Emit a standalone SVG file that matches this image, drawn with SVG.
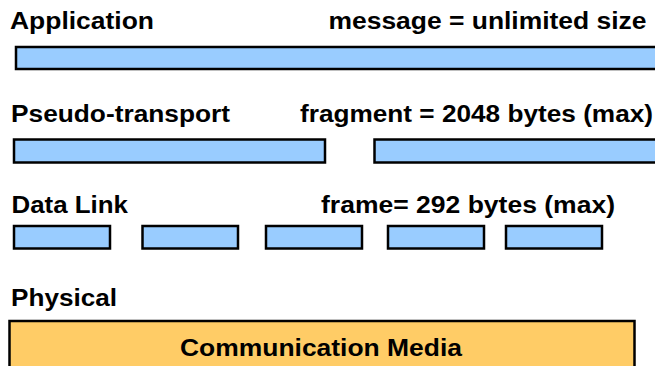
<svg xmlns="http://www.w3.org/2000/svg" width="655" height="366" viewBox="0 0 655 366">
<style>
text{font-family:"Liberation Sans",Arial,sans-serif;font-weight:bold;font-size:23px;fill:#000}
.pkt{fill:#99CCFF;stroke:#000;stroke-width:2.5}
.media{fill:#FFCC66;stroke:#000;stroke-width:2.5}
</style>
<rect width="655" height="366" fill="#fff"/>
<g id="application">
<text x="10" y="29" textLength="144" lengthAdjust="spacingAndGlyphs">Application</text>
<text x="328.5" y="29" textLength="318" lengthAdjust="spacingAndGlyphs">message = unlimited size</text>
<rect class="pkt" x="16" y="47" width="660" height="22"/>
</g>
<g id="pseudo-transport">
<text x="11" y="121.5" textLength="219" lengthAdjust="spacingAndGlyphs">Pseudo-transport</text>
<text x="300" y="121.5" textLength="353" lengthAdjust="spacingAndGlyphs">fragment = 2048 bytes (max)</text>
<rect class="pkt" x="14" y="139.5" width="311" height="23"/>
<rect class="pkt" x="374.5" y="139.5" width="300" height="23"/>
</g>
<g id="data-link">
<text x="11.5" y="213" textLength="116.5" lengthAdjust="spacingAndGlyphs">Data Link</text>
<text x="321" y="213" textLength="294" lengthAdjust="spacingAndGlyphs">frame= 292 bytes (max)</text>
<rect class="pkt" x="14" y="226" width="96" height="22.5"/>
<rect class="pkt" x="142.5" y="226" width="95.5" height="22.5"/>
<rect class="pkt" x="266" y="226" width="96" height="22.5"/>
<rect class="pkt" x="388" y="226" width="96" height="22.5"/>
<rect class="pkt" x="506" y="226" width="96" height="22.5"/>
</g>
<g id="physical">
<text x="11" y="305.5" textLength="106" lengthAdjust="spacingAndGlyphs">Physical</text>
<rect class="media" x="9.5" y="321" width="625" height="60"/>
<text x="180" y="356" textLength="282" lengthAdjust="spacingAndGlyphs">Communication Media</text>
</g>
<g id="connectors"/>
</svg>
